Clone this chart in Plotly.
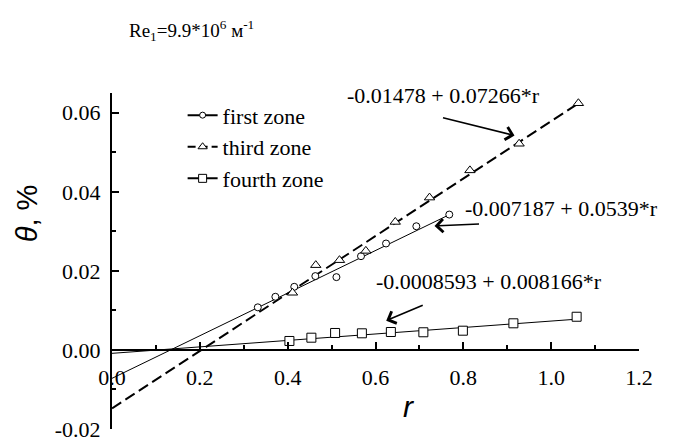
import plotly.graph_objects as go

# ---- data ----
first_r = [0.332, 0.372, 0.415, 0.463, 0.511, 0.567, 0.624, 0.693, 0.768]
first_theta = [0.01078, 0.01345, 0.01597, 0.01868, 0.01842, 0.02372, 0.02693, 0.03129, 0.03425]

third_r = [0.411, 0.464, 0.518, 0.578, 0.645, 0.723, 0.815, 0.927, 1.062]
third_theta = [0.01446, 0.02145, 0.02271, 0.02506, 0.03238, 0.03854, 0.04543, 0.05216, 0.06241]

fourth_r = [0.404, 0.454, 0.508, 0.569, 0.635, 0.709, 0.799, 0.914, 1.058]
fourth_theta = [0.00227, 0.0031, 0.00429, 0.00421, 0.00454, 0.00447, 0.00487, 0.00674, 0.0084]

# linear fits printed on the chart: theta = a + b*r
fit_a = {"first": -0.007187, "third": -0.01478, "fourth": -0.0008593}
fit_b = {"first": 0.0539, "third": 0.07266, "fourth": 0.008166}
fit_labels = {"first": "-0.007187 + 0.0539*r",
              "third": "-0.01478 + 0.07266*r",
              "fourth": "-0.0008593 + 0.008166*r"}

zone_names = {"first": "first zone", "third": "third zone", "fourth": "fourth zone"}

x_ticks = [0.0, 0.2, 0.4, 0.6, 0.8, 1.0, 1.2]
y_ticks = [-0.02, 0.0, 0.02, 0.04, 0.06]
y_ticktext = ["-0.02", "0.00", "0.02", "0.04", "0.06"]

SERIF = "Liberation Serif, Times New Roman, serif"
SANS = "Liberation Sans, Arial, sans-serif"

series = {
    "first": (first_r, first_theta, "circle", 7, "solid", 1),
    "third": (third_r, third_theta, "triangle-up", 9, "11px,5px", 2),
    "fourth": (fourth_r, fourth_theta, "square", 9, "solid", 1),
}

fig = go.Figure()

# fit lines
for key, (rs, ts, sym, msize, dash, lw) in series.items():
    rmax = max(rs)
    fig.add_trace(go.Scatter(
        x=[0.0, rmax],
        y=[fit_a[key], fit_a[key] + fit_b[key] * rmax],
        mode="lines", line=dict(color="black", width=lw, dash=dash),
        showlegend=False, hoverinfo="skip"))

# data markers
for key, (rs, ts, sym, msize, dash, lw) in series.items():
    fig.add_trace(go.Scatter(
        x=rs, y=ts, mode="markers",
        marker=dict(symbol=sym, size=msize, color="white",
                    line=dict(color="black", width=1)),
        showlegend=False, name=zone_names[key]))

# legend entries
for key, (rs, ts, sym, msize, dash, lw) in series.items():
    fig.add_trace(go.Scatter(
        x=[None], y=[None], mode="lines+markers", name=zone_names[key],
        line=dict(color="black", width=2, dash="8px,4px" if key == "third" else "solid"),
        marker=dict(symbol=sym, size=msize - 1, color="white",
                    line=dict(color="black", width=1))))

# arrows (head in data coords, tail offset in px)
arrows = [
    (0.9165, 0.05426, -73, -18),
    (0.7344, 0.03137, 46, -2),
    (0.6244, 0.0074, 38, -16),
]
for hx, hy, ax, ay in arrows:
    fig.add_annotation(x=hx, y=hy, ax=ax, ay=ay, text="", showarrow=True,
                       arrowhead=4, arrowsize=1.6, arrowwidth=1.6,
                       arrowcolor="black", xref="x", yref="y")

# fit equation labels
label_pos = {"third": (0.754, 0.06435), "first": (1.0228, 0.03584), "fourth": (0.8589, 0.01724)}
for key, (lx, ly) in label_pos.items():
    fig.add_annotation(x=lx, y=ly, text=fit_labels[key], showarrow=False,
                       font=dict(family=SERIF, size=22, color="black"),
                       xref="x", yref="y")

# title
fig.add_annotation(x=0.029, y=1.186, xref="paper", yref="paper",
                   xanchor="left", yanchor="middle", showarrow=False,
                   text="Re<sub>1</sub>=9.9*10<sup>6</sup> м<sup>-1</sup>",
                   font=dict(family=SERIF, size=19, color="black"))

# axis titles
fig.add_annotation(x=0.674, y=-0.0143, xref="x", yref="y", showarrow=False,
                   text="<i>r</i>", font=dict(family=SANS, size=30, color="black"))
fig.add_annotation(x=-0.196, y=0.0345, xref="paper", yref="y", showarrow=False,
                   text="<i>θ</i>, %", textangle=-90,
                   font=dict(family=SANS, size=29, color="black"))

fig.update_layout(
    width=673, height=445,
    margin=dict(l=112, r=34, t=93, b=16, autoexpand=False),
    paper_bgcolor="white", plot_bgcolor="white",
    font=dict(family=SERIF, size=22, color="black"),
    legend=dict(x=0.134, y=0.996, xanchor="left", yanchor="top",
                bgcolor="rgba(0,0,0,0)", font=dict(family=SERIF, size=22),
                tracegroupgap=0),
    xaxis=dict(range=[0, 1.2], anchor="free", position=(0 - (-0.02)) / 0.085,
               automargin=False,
               showline=True, linecolor="black", linewidth=2,
               ticks="inside", ticklen=7, tickwidth=1.5, tickcolor="black",
               tickvals=x_ticks, tickformat=".1f", ticklabelstandoff=8,
               minor=dict(ticks="inside", ticklen=4, dtick=0.1, tickcolor="black", tickwidth=1.5),
               showgrid=False, zeroline=False),
    yaxis=dict(range=[-0.02, 0.065], automargin=False,
               showline=True, linecolor="black", linewidth=2,
               ticks="inside", ticklen=7, tickwidth=1.5, tickcolor="black",
               tickvals=y_ticks, ticktext=y_ticktext, ticklabelstandoff=5,
               minor=dict(ticks="inside", ticklen=4, dtick=0.01, tickcolor="black", tickwidth=1.5),
               showgrid=False, zeroline=False),
)

fig.write_html("out.html")
